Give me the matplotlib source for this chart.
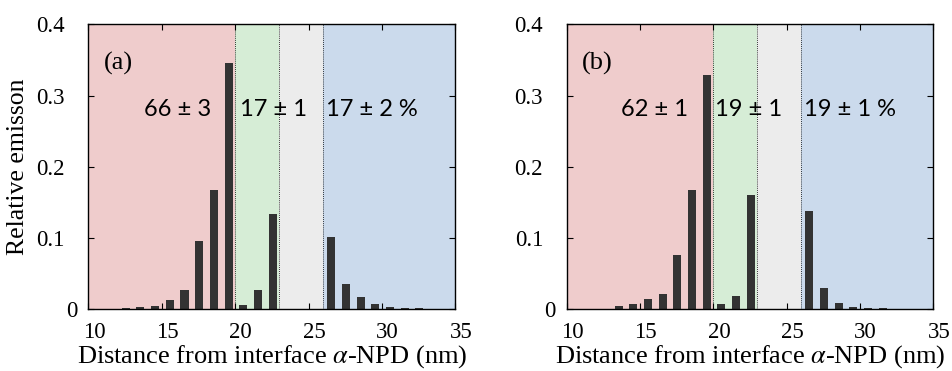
import numpy as np
import matplotlib
matplotlib.use("Agg")
from matplotlib import pyplot as plt
from matplotlib.transforms import ScaledTranslation

plt.rcParams['font.family'] = ['Liberation Serif', 'DejaVu Serif']
plt.rcParams['mathtext.fontset'] = 'stix'

# Bin positions (nm) and relative emission for the two samples
positions = [10.55, 11.55, 12.55, 13.55, 14.55, 15.55, 16.55, 17.55, 18.55, 19.55,
             20.55, 21.55, 22.55,
             26.55, 27.55, 28.55, 29.55, 30.55, 31.55, 32.55, 33.55, 34.55]
emission_a = [0.0005, 0.001, 0.002, 0.0033, 0.0047, 0.013, 0.027, 0.0964, 0.168, 0.345,
              0.0056, 0.0267, 0.134,
              0.1015, 0.0356, 0.0173, 0.0075, 0.0037, 0.002, 0.0014, 0.0005, 0.0005]
emission_b = [0.0005, 0.0005, 0.001, 0.0047, 0.0075, 0.0145, 0.0215, 0.0767, 0.1675, 0.329,
              0.0075, 0.019, 0.161,
              0.1385, 0.030, 0.0094, 0.0037, 0.002, 0.0014, 0.0005, 0.0005, 0.0005]

# Zone boundaries and colours
zone_edges = [10, 20, 23, 26, 35]
zone_colors = ['#efcccc', '#d6edd6', '#ececec', '#cbdaec']
dividers = [20, 23, 26]

x_ticks = [10, 15, 20, 25, 30, 35]
y_ticks = [0, 0.1, 0.2, 0.3, 0.4]
y_tick_labels = ['0', '0.1', '0.2', '0.3', '0.4']

panel_labels = ['(a)', '(b)']
zone_texts = [['66 ± 3', '17 ± 1', '17 ± 2 %'],
              ['62 ± 1', '19 ± 1', '19 ± 1 %']]
text_x = [[18.35, 20.3, 26.2], [18.25, 20.1, 26.2]]

fig = plt.figure(figsize=(9.52, 3.71), dpi=100)
ax_a = fig.add_axes([0.0928, 0.1663, 0.3855, 0.7682])
ax_b = fig.add_axes([0.5953, 0.1663, 0.3850, 0.7682])

sans = ['Lato', 'DejaVu Sans']

for i, (ax, vals) in enumerate(zip([ax_a, ax_b], [emission_a, emission_b])):
    for k in range(len(zone_colors)):
        ax.axvspan(zone_edges[k], zone_edges[k + 1], color=zone_colors[k], lw=0, zorder=0)
    for d in dividers:
        ax.axvline(d, color='black', lw=0.6, ls=(0, (1, 1.5)), zorder=1)
    ax.bar(positions, vals, width=0.55, color='#333333', zorder=2)

    ax.set_xlim(10, 35)
    ax.set_ylim(0, 0.4)
    ax.set_xticks(x_ticks)
    ax.set_yticks(y_ticks)
    ax.set_yticklabels(y_tick_labels)
    ax.tick_params(direction='in', top=True, right=True, length=4, width=0.8,
                   labelsize=16.5)
    ax.tick_params(axis='x', pad=9)
    ax.tick_params(axis='y', pad=17)
    for s in ax.spines.values():
        s.set_linewidth(1.0)
    ax.set_xlabel('Distance from interface $\\alpha$-NPD (nm)', fontsize=19, labelpad=0)

    # x tick labels sit a little right of their ticks, the "0" label closer to the axis
    for lab in ax.get_xticklabels():
        lab.set_transform(lab.get_transform() + ScaledTranslation(4 / 72, 0, fig.dpi_scale_trans))
    zero = ax.get_yticklabels()[0]
    zero.set_transform(zero.get_transform() + ScaledTranslation(9 / 72, 0, fig.dpi_scale_trans))

    ax.text(11.05, 0.345, panel_labels[i], fontsize=19, ha='left', va='center')
    ax.text(text_x[i][0], 0.28, zone_texts[i][0], fontsize=17, ha='right', va='center',
            family=sans)
    ax.text(text_x[i][1], 0.28, zone_texts[i][1], fontsize=17, ha='left', va='center',
            family=sans)
    ax.text(text_x[i][2], 0.28, zone_texts[i][2], fontsize=17, ha='left', va='center',
            family=sans)

ax_a.set_ylabel('Relative emisson', fontsize=18.5, labelpad=5)

fig.savefig('out.png', dpi=100)
